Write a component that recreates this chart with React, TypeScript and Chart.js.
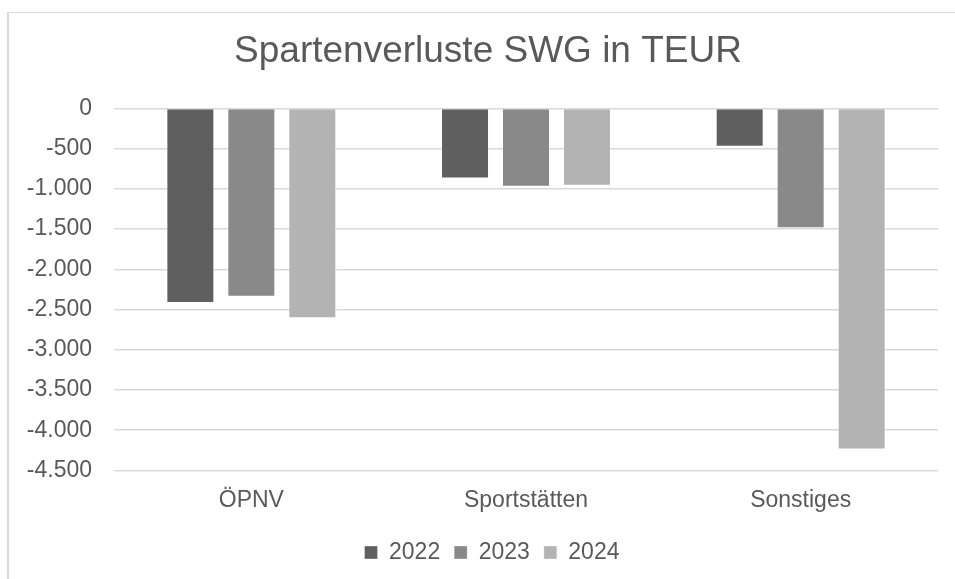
import React, { useEffect, useRef } from "react";
import { Chart, registerables } from "chart.js";

Chart.register(...registerables);

const categories = ["ÖPNV", "Sportstätten", "Sonstiges"];
const seriesLabels = ["2022", "2023", "2024"];
const values2022 = [-2420, -870, -478];
const values2023 = [-2340, -975, -1490];
const values2024 = [-2610, -960, -4240];
const yTicks = [0, -500, -1000, -1500, -2000, -2500, -3000, -3500, -4000, -4500];
const chartTitle = "Spartenverluste SWG in TEUR";

const colors = ["#5f5f5f", "#898989", "#b3b3b3"];
const textColor = "#595959";
const font = "'Liberation Sans', Arial, sans-serif";

function formatDe(v: number): string {
  const neg = v < 0;
  const s = Math.abs(Math.round(v)).toString();
  const withDots = s.replace(/\B(?=(\d{3})+(?!\d))/g, ".");
  return (neg ? "-" : "") + withDots;
}

const shiftBlocks = {
  id: "shiftBlocks",
  afterLayout(chart: any) {
    if (chart.legend) {
      chart.legend.left += 10;
      chart.legend.right += 10;
    }
    if (chart.titleBlock) {
      chart.titleBlock.left += 6;
      chart.titleBlock.right += 6;
    }
  },
};

export default function App() {
  const ref = useRef<HTMLCanvasElement | null>(null);

  useEffect(() => {
    if (!ref.current) return;
    const allSeries = [values2022, values2023, values2024];
    const chart = new Chart(ref.current, {
      type: "bar",
      data: {
        labels: categories,
        datasets: allSeries.map((vals, i) => ({
          label: seriesLabels[i],
          data: vals,
          backgroundColor: colors[i],
          borderColor: "rgba(255,255,255,0.35)",
          borderWidth: 1,
          categoryPercentage: 0.666,
          barPercentage: 0.787,
        })),
      },
      plugins: [shiftBlocks],
      options: {
        animation: false,
        responsive: false,
        maintainAspectRatio: false,
        layout: { padding: { left: 26, right: 17, top: 0, bottom: 5 } },
        plugins: {
          title: {
            display: true,
            text: chartTitle,
            color: textColor,
            font: { family: font, size: 37, weight: "normal" },
            padding: { top: 30, bottom: 34 },
          },
          legend: {
            position: "bottom",
            labels: {
              color: textColor,
              font: { family: font, size: 23 },
              boxWidth: 13,
              boxHeight: 13,
              padding: 14,
            },
          },
          tooltip: { enabled: false },
        },
        scales: {
          x: {
            grid: { display: false },
            border: { display: false },
            afterFit: (axis: any) => {
              axis.height += 5;
            },
            ticks: {
              color: textColor,
              font: { family: font, size: 23 },
              padding: 8,
            },
          },
          y: {
            min: -4500,
            max: 0,
            afterBuildTicks: (axis: any) => {
              axis.ticks = yTicks.map((v) => ({ value: v }));
            },
            afterFit: (axis: any) => {
              axis.width = 88;
            },
            grid: { color: "#d9d9d9", lineWidth: 1.5, drawTicks: false },
            border: { display: false },
            ticks: {
              color: textColor,
              font: { family: font, size: 23 },
              padding: 22,
              callback: (v: any) => formatDe(Number(v)),
            },
          },
        },
      },
    });
    return () => chart.destroy();
  }, []);

  return (
    <div style={{ position: "fixed", left: 0, top: 0, width: 955, height: 579, background: "#fff" }}>
      <div
        style={{
          position: "absolute",
          left: 7,
          top: 12,
          width: 960,
          height: 580,
          borderLeft: "2px solid #d9d9d9",
          borderTop: "1px solid #d9d9d9",
        }}
      />
      <canvas ref={ref} width={955} height={579} style={{ position: "absolute", left: 0, top: 0, width: 955, height: 579 }} />
    </div>
  );
}
